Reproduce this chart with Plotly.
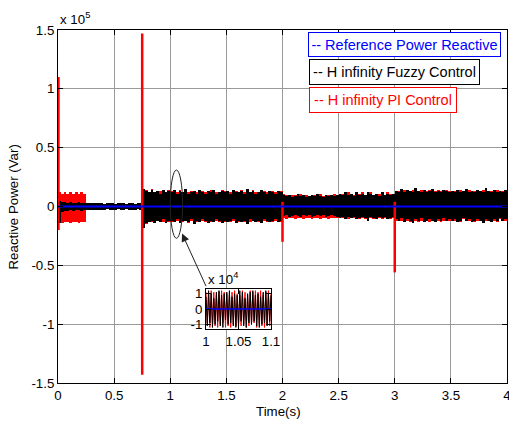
import plotly.graph_objects as go

# ---------------- data (values in kVar unless noted) ----------------
col_width = 0.025          # s, width of each envelope column
t_start = 0.0

# H infinity Fuzzy Control (black) envelope: upper / lower per 0.025 s column, 0..4 s
fuzzy_up = [5, 4, 4, 3, 4, 3, 3, 4, 3, 3, 3, 3, 3, 3, 3, 3, 2, 3, 3, 3,
            2, 3, 3, 3, 2, 3, 3, 2, 3, 3,
            15, 13, 12, 14, 12, 13, 11, 14, 12, 13,
            12, 14, 11, 13, 12, 15, 11, 12, 13, 11, 14, 12, 11, 13, 12, 14, 11, 12, 13, 12,
            13, 11, 14, 12, 12, 13, 11, 15, 12, 13, 11, 12, 14, 12, 11, 13, 12, 11, 13, 12,
            10, 9, 10, 8, 9, 11, 9, 10, 8, 9, 10, 9, 11, 9, 8, 10, 9, 10, 9, 10,
            11, 10, 12, 10, 11, 9, 12, 10, 11, 10, 12, 11, 10, 11, 9, 12, 10, 11, 10, 11,
            13, 12, 15, 12, 14, 13, 12, 16, 13, 12, 14, 12, 13, 15, 12, 13, 12, 14, 13, 12,
            13, 12, 14, 12, 13, 15, 12, 13, 12, 14, 13, 12, 16, 13, 12, 14, 12, 13, 12, 14]
fuzzy_lo = [-14, -5, -4, -4, -3, -4, -3, -3, -4, -3, -3, -3, -3, -3, -3, -3, -3, -2, -3, -3,
            -3, -2, -3, -3, -2, -3, -3, -3, -2, -3,
            -18, -14, -13, -12, -14, -12, -13, -11, -14, -12,
            -12, -13, -11, -14, -12, -12, -13, -11, -15, -12, -13, -11, -12, -14, -12, -13, -11, -12, -14, -12,
            -13, -12, -11, -14, -12, -13, -12, -15, -11, -12, -13, -12, -14, -11, -12, -13, -12, -11, -13, -12,
            -8, -7, -9, -8, -7, -8, -9, -7, -8, -7, -9, -8, -7, -8, -7, -9, -8, -7, -8, -9,
            -10, -9, -11, -9, -10, -9, -11, -10, -9, -10, -12, -9, -10, -11, -9, -10, -9, -11, -10, -9,
            -11, -12, -10, -13, -11, -12, -14, -11, -12, -10, -13, -12, -11, -12, -13, -11, -12, -10, -12, -11,
            -12, -11, -13, -12, -10, -12, -11, -13, -12, -11, -12, -14, -11, -12, -13, -11, -12, -10, -12, -11]

# H infinity PI Control (red) envelope
pi_up = [12, 11, 12, 11, 12, 11, 12, 11, 12, 11,
         2, 2, 2, 2, 2, 2, 2, 2, 2, 2, 2, 2, 2, 2, 2, 2, 2, 2, 2, 2,
         14, 14, 11, 15, 12, 12, 13, 13, 11, 14,
         13, 12, 12, 14, 11, 13, 12, 13, 11, 12, 13, 13, 12, 12, 14, 12, 12, 11, 14, 13,
         12, 12, 13, 13, 11, 14, 12, 13, 11, 14, 12, 11, 13, 13, 12, 12, 13, 12, 12, 13,
         11, 10, 9, 10, 10, 9, 11, 9, 10, 9, 9, 10, 10, 11, 9, 9, 10, 9, 11, 9,
         10, 11, 11, 12, 10, 10, 11, 11, 12, 9, 11, 12, 10, 10, 11, 11, 9, 12, 11, 10,
         12, 13, 13, 14, 12, 13, 14, 13, 12, 14, 13, 13, 14, 12, 13, 14, 13, 12, 14, 13,
         12, 13, 13, 14, 12, 13, 14, 12, 13, 13, 12, 14, 13, 12, 13, 13, 14, 12, 13, 13]
pi_lo = [-13, -14, -13, -13, -14, -13, -13, -14, -13, -13,
         -2, -2, -2, -2, -2, -2, -2, -2, -2, -2, -2, -2, -2, -2, -2, -2, -2, -2, -2, -2,
         -14, -15, -12, -13, -13, -12, -12, -13, -12, -13,
         -13, -12, -12, -13, -13, -11, -14, -12, -13, -13, -12, -12, -13, -12, -13, -12, -12, -13, -12, -13,
         -12, -13, -12, -12, -13, -12, -13, -12, -13, -12, -12, -13, -12, -12, -13, -12, -13, -12, -12, -13,
         -10, -11, -10, -10, -11, -10, -10, -11, -10, -10, -11, -10, -10, -11, -10, -10, -11, -10, -10, -10,
         -10, -10, -10, -11, -10, -10, -10, -11, -10, -11, -10, -10, -11, -10, -10, -11, -10, -10, -11, -10,
         -12, -11, -12, -12, -12, -13, -12, -12, -13, -12, -12, -12, -13, -12, -12, -12, -13, -12, -11, -12,
         -12, -12, -12, -13, -11, -12, -12, -12, -13, -12, -12, -13, -12, -12, -12, -12, -13, -11, -12, -12]

# PI control transient spikes (s, kVar)
spike_t = [0.004, 0.75, 2.0, 3.0]
spike_lo = [-20, -143, -30, -56]
spike_hi = [110, 147, 4, 4]

# Reference reactive power (blue)
ref_t = [0.0, 4.0]
ref_q = [0.0, 0.0]

# Inset: zoom on 1.0 .. 1.1 s (samples every 0.002 s)
inset_t0, inset_dt = 1.0, 0.002
inset_fuzzy = [8, -11, 12, -9, 10, -12, 7, -10, 11, -8, 12, -11, 9, -12, 10, -7, 11, -10, 12, -9,
               8, -11, 10, -12, 9, -10, 12, -8, 11, -11, 7, -12, 10, -9, 11, -10, 12, -8, 9, -11,
               10, -12, 8, -10, 11, -9, 12, -11, 10, -8, 9]
inset_pi = [11, -9, 10, -12, 12, -10, 11, -11, 9, -12, 11, -10, 12, -9, 11, -12, 10, -11, 9, -12,
            11, -10, 12, -11, 10, -12, 9, -11, 12, -10, 11, -12, 9, -11, 12, -10, 11, -9, 12, -12,
            11, -10, 12, -11, 9, -12, 11, -10, 12, -11, 10]

x_ticks = [0, 0.5, 1, 1.5, 2, 2.5, 3, 3.5, 4]
y_ticks = [-1.5, -1, -0.5, 0, 0.5, 1, 1.5]          # x 10^5
y_tick_labels = ["-1.5", "-1", "-0.5", "0", "0.5", "1", "1.5"]
inset_x_ticks = [1, 1.05, 1.1]
inset_x_labels = ["1", "1.05", "1.1"]
inset_y_ticks = [-1, 0, 1]                          # x 10^4
inset_y_labels = ["-1", "0", "1"]

# ---------------- figure ----------------
K = 1000.0
centers = [t_start + col_width * (i + 0.5) for i in range(len(fuzzy_up))]

FONT = "Liberation Sans, Arial, sans-serif"
RED, BLACK, BLUE = "#ff0000", "#000000", "#0000ff"

fig = go.Figure()

# red band
fig.add_trace(go.Bar(x=centers, y=[(u - l) * K for u, l in zip(pi_up, pi_lo)],
                     base=[l * K for l in pi_lo], width=col_width,
                     marker=dict(color=RED, line=dict(width=0)), showlegend=False))
# red spikes
sx, sy = [], []
for t, lo, hi in zip(spike_t, spike_lo, spike_hi):
    sx += [t, t, None]
    sy += [lo * K, hi * K, None]
fig.add_trace(go.Scatter(x=sx, y=sy, mode="lines", line=dict(color=RED, width=2.5),
                         showlegend=False))
# black band
fig.add_trace(go.Bar(x=centers, y=[(u - l) * K for u, l in zip(fuzzy_up, fuzzy_lo)],
                     base=[l * K for l in fuzzy_lo], width=col_width,
                     marker=dict(color=BLACK, line=dict(width=0)), showlegend=False))
# reference
fig.add_trace(go.Scatter(x=ref_t, y=[q * K for q in ref_q], mode="lines",
                         line=dict(color=BLUE, width=2), showlegend=False))

# inset traces
inset_t = [inset_t0 + inset_dt * i for i in range(len(inset_fuzzy))]
fig.add_trace(go.Scatter(x=inset_t, y=[v * K for v in inset_pi], mode="lines",
                         line=dict(color=RED, width=1), xaxis="x2", yaxis="y2", showlegend=False))
fig.add_trace(go.Scatter(x=inset_t, y=[v * K for v in inset_fuzzy], mode="lines",
                         line=dict(color=BLACK, width=1), xaxis="x2", yaxis="y2", showlegend=False))
fig.add_trace(go.Scatter(x=[1.0, 1.1], y=[0, 0], mode="lines",
                         line=dict(color=BLUE, width=1.5), xaxis="x2", yaxis="y2", showlegend=False))

axis_common = dict(showline=True, linecolor="black", linewidth=1, mirror="ticks",
                   ticks="inside", ticklen=5, tickcolor="black", zeroline=False,
                   automargin=False, ticklabeloverflow="allow",
                   tickfont=dict(family=FONT, size=13.3, color="black"))

fig.update_layout(
    width=509, height=423,
    margin=dict(l=58, r=2, t=30, b=40, autoexpand=False),
    paper_bgcolor="white", plot_bgcolor="white",
    barmode="overlay", bargap=0,
    font=dict(family=FONT, size=13.3, color="black"),
    xaxis=dict(range=[0, 4], tickvals=x_ticks, ticktext=[f"{v:g}" for v in x_ticks],
               showgrid=True, gridcolor="#9a9a9a", gridwidth=1, **axis_common),
    yaxis=dict(range=[-1.5e5, 1.5e5], tickvals=[v * 1e5 for v in y_ticks],
               ticktext=y_tick_labels, showgrid=True, gridcolor="#9a9a9a", gridwidth=1,
               **axis_common),
    xaxis2=dict(domain=[0.3296, 0.4744], anchor="y2", range=[1.0, 1.1],
                tickvals=inset_x_ticks, ticktext=inset_x_labels, showgrid=False, **axis_common),
    yaxis2=dict(domain=[0.153, 0.266], anchor="x2", range=[-13000, 13000],
                tickvals=[v * 1e4 for v in inset_y_ticks], ticktext=inset_y_labels,
                showgrid=False, **axis_common),
)

# white background for inset (covers main grid/traces)
fig.add_shape(type="rect", xref="x2 domain", yref="y2 domain", x0=0, x1=1, y0=0, y1=1,
              fillcolor="white", line=dict(width=0), layer="below")

# ellipse highlighting the zoomed region
fig.add_shape(type="circle", xref="x", yref="y", x0=1.0, x1=1.11, y0=-27000, y1=31000,
              line=dict(color="#222222", width=1))

annotations = [
    # exponent labels
    dict(text="x 10<sup>5</sup>", xref="paper", yref="paper", x=0.0, y=1.0,
         xanchor="left", yanchor="bottom", yshift=1, showarrow=False,
         font=dict(family=FONT, size=13.3)),
    dict(text="x 10<sup>4</sup>", xref="x2 domain", yref="y2 domain", x=0.0, y=1.0,
         xanchor="left", yanchor="bottom", yshift=0, showarrow=False,
         font=dict(family=FONT, size=13.3)),
    # axis titles
    dict(text="Reactive Power (Var)", xref="paper", yref="paper", x=-0.098, y=0.5,
         xanchor="center", yanchor="middle",
         textangle=-90, showarrow=False, font=dict(family=FONT, size=13.3)),
    dict(text="Time(s)", xref="paper", yref="paper", x=0.492, y=-0.082,
         xanchor="center", yanchor="middle",
         showarrow=False, font=dict(family=FONT, size=13.3)),
    # arrow from inset to ellipse
    dict(text="", xref="x", yref="y", x=1.105, y=-23000, axref="x", ayref="y",
         ax=1.325, ay=-69000, showarrow=True, arrowhead=2, arrowsize=1.6,
         arrowwidth=1, arrowcolor="#222222"),
]

legend_items = [
    ("-- Reference Power Reactive", BLUE, 0.557, 0.959, 191, 23),
    ("-- H infinity Fuzzy Control", BLACK, 0.559, 0.881, 169, 24),
    ("-- H infinity PI Control", RED, 0.559, 0.802, 146, 24),
]
for txt, col, xp, yp, w, h in legend_items:
    annotations.append(dict(text=txt, xref="paper", yref="paper", x=xp, y=yp,
                            xanchor="left", yanchor="middle", showarrow=False,
                            width=w, height=h, align="center", valign="middle",
                            bordercolor=col, borderwidth=1, borderpad=0, bgcolor="white",
                            font=dict(family=FONT, size=14.5, color=col)))

fig.update_layout(annotations=annotations)

fig.write_html("out.html")
